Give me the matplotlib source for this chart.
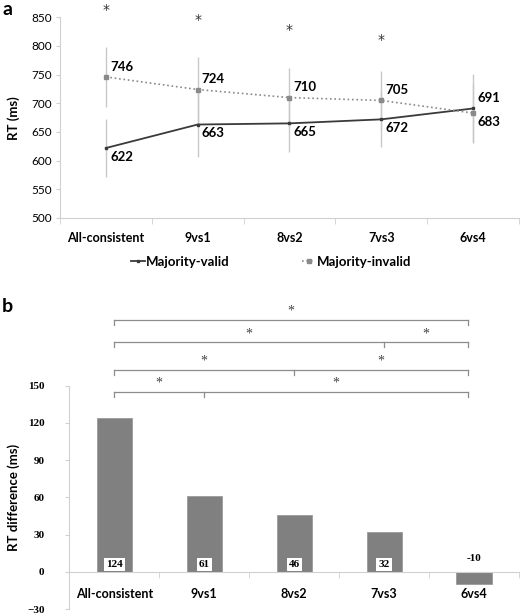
"""Two-panel RT figure: line chart with error bars (a) and difference bars (b)"""
import numpy as np
import matplotlib.pyplot as plt

categories = ['All-consistent', '9vs1', '8vs2', '7vs3', '6vs4']
valid_rt = [622, 663, 665, 672, 691]
invalid_rt = [746, 724, 710, 705, 683]
valid_err = [50, 56, 50, 49, 60]
invalid_err = [52, 57, 52, 51, 50]
star_a_idx = [0, 1, 2, 3]
star_a_y = [863, 845, 828, 810]

rt_diff = [124, 61, 46, 32, -10]
bracket_rows = [[0, 4], [0, 3, 4], [0, 2, 4], [0, 1, 4]]
bracket_y = [203, 185, 163, 145]

SANS = 'Lato'
SERIF = 'Liberation Serif'
AXIS_GRAY = '#d0d0d0'

fig = plt.figure(figsize=(5.2, 6.14), dpi=100)

# ---------------- panel a ----------------
ax = fig.add_axes([0.1154, 0.645, 0.8826, 0.3268])
x = np.arange(len(categories))

ax.errorbar(x, valid_rt, yerr=valid_err, fmt='none', ecolor='#c8c8c8', elinewidth=1.0, capsize=0, zorder=1)
ax.errorbar(x, invalid_rt, yerr=invalid_err, fmt='none', ecolor='#c8c8c8', elinewidth=1.0, capsize=0, zorder=1)
ax.plot(x, valid_rt, '-', color='#3a3a3a', lw=1.3, marker='s', ms=2, label='Majority-valid', zorder=3)
ax.plot(x, invalid_rt, ':', color='#8a8a8a', lw=1.2, marker='s', ms=2.5, label='Majority-invalid', zorder=3)

for i in range(len(categories)):
    hi_v, lo_v = (valid_rt[i], invalid_rt[i]) if valid_rt[i] > invalid_rt[i] else (invalid_rt[i], valid_rt[i])
    ax.annotate(str(hi_v), (x[i], hi_v), xytext=(3, 3), textcoords='offset points',
                ha='left', va='bottom', fontsize=9.5, fontweight='bold', family=SANS)
    ax.annotate(str(lo_v), (x[i], lo_v), xytext=(3, -2), textcoords='offset points',
                ha='left', va='top', fontsize=9.5, fontweight='bold', family=SANS)

for i, yy in zip(star_a_idx, star_a_y):
    ax.text(x[i], yy, '*', ha='center', va='center', fontsize=10, color='#333333', clip_on=False)

ax.set_xlim(-0.5, 4.5)
ax.set_ylim(500, 850)
ax.set_yticks(np.arange(500, 851, 50))
ax.set_xticks(x)
ax.set_xticklabels(categories, fontweight='bold', fontsize=9, family=SANS)
ax.set_xticks(np.arange(-0.5, 4.6, 1), minor=True)
ax.tick_params(axis='x', which='major', length=0, pad=10)
ax.tick_params(axis='x', which='minor', length=4, color=AXIS_GRAY, direction='out')
ax.tick_params(axis='y', length=3, color=AXIS_GRAY, labelsize=8.5, pad=3)
for lab in ax.get_yticklabels():
    lab.set_family(SANS)
for s in ['top', 'right']:
    ax.spines[s].set_visible(False)
for s in ['left', 'bottom']:
    ax.spines[s].set_color(AXIS_GRAY)
ax.set_ylabel('RT (ms)', fontsize=9.5, fontweight='bold', family=SANS, labelpad=8)

ax.legend(loc='upper center', bbox_to_anchor=(0.46, -0.13), ncol=2, frameon=False,
          handlelength=1.0, handletextpad=0.1, columnspacing=5.5,
          prop={'family': SANS, 'weight': 'bold', 'size': 9.5})

fig.text(0.004, 0.985, 'a', fontsize=14, fontweight='bold', family=SANS, va='center')

# ---------------- panel b ----------------
bx = fig.add_axes([0.1335, 0.0081, 0.8645, 0.3637])
bx.spines['bottom'].set_position(('data', 0))
xb = np.arange(len(categories))
bx.bar(xb, rt_diff, width=0.39, color='#808080', edgecolor='#9a9a9a', lw=0.6, zorder=2)

for i, v in enumerate(rt_diff):
    if v > 0:
        bx.text(xb[i], 6, str(v), ha='center', va='center', fontsize=8, fontweight='bold',
                family=SERIF, bbox=dict(facecolor='white', edgecolor='none', pad=1.5), zorder=3)
    else:
        bx.text(xb[i], 11, str(v), ha='center', va='center', fontsize=8, fontweight='bold',
                family=SERIF, zorder=3)

tick_len = 4
for row, yy in zip(bracket_rows, bracket_y):
    left, right = row[0], row[-1] - 0.07
    bx.plot([left, right], [yy, yy], color='#8c8c8c', lw=0.9, clip_on=False)
    pts = [left] + row[1:-1] + [right]
    for p in pts:
        bx.plot([p, p], [yy, yy - tick_len], color='#8c8c8c', lw=0.9, clip_on=False)
    for a, b in zip(pts[:-1], pts[1:]):
        bx.text((a + b) / 2, yy + 7, '*', ha='center', va='center', fontsize=10,
                family=SERIF, color='#444444', clip_on=False)

bx.set_xlim(-0.5, 4.5)
bx.set_ylim(-30, 150)
bx.set_yticks(np.arange(-30, 151, 30))
bx.set_xticks(xb)
bx.set_xticklabels(categories, fontweight='bold', fontsize=9, family=SANS)
bx.set_xticks(np.arange(-0.5, 4.6, 1), minor=True)
bx.tick_params(axis='x', which='major', length=0, pad=11.5)
bx.tick_params(axis='x', which='minor', length=4, color=AXIS_GRAY, direction='out')
bx.tick_params(axis='y', length=3, color=AXIS_GRAY, labelsize=8, pad=15)
for lab in bx.get_yticklabels():
    lab.set_family(SERIF)
    lab.set_fontweight('bold')
for s in ['top', 'right']:
    bx.spines[s].set_visible(False)
for s in ['left', 'bottom']:
    bx.spines[s].set_color(AXIS_GRAY)
bx.set_ylabel('RT difference (ms)', fontsize=9.5, fontweight='bold', family=SANS, labelpad=5)

fig.text(0.004, 0.5, 'b', fontsize=14, fontweight='bold', family=SANS, va='center')

fig.savefig('out.png', dpi=100, facecolor='white')
